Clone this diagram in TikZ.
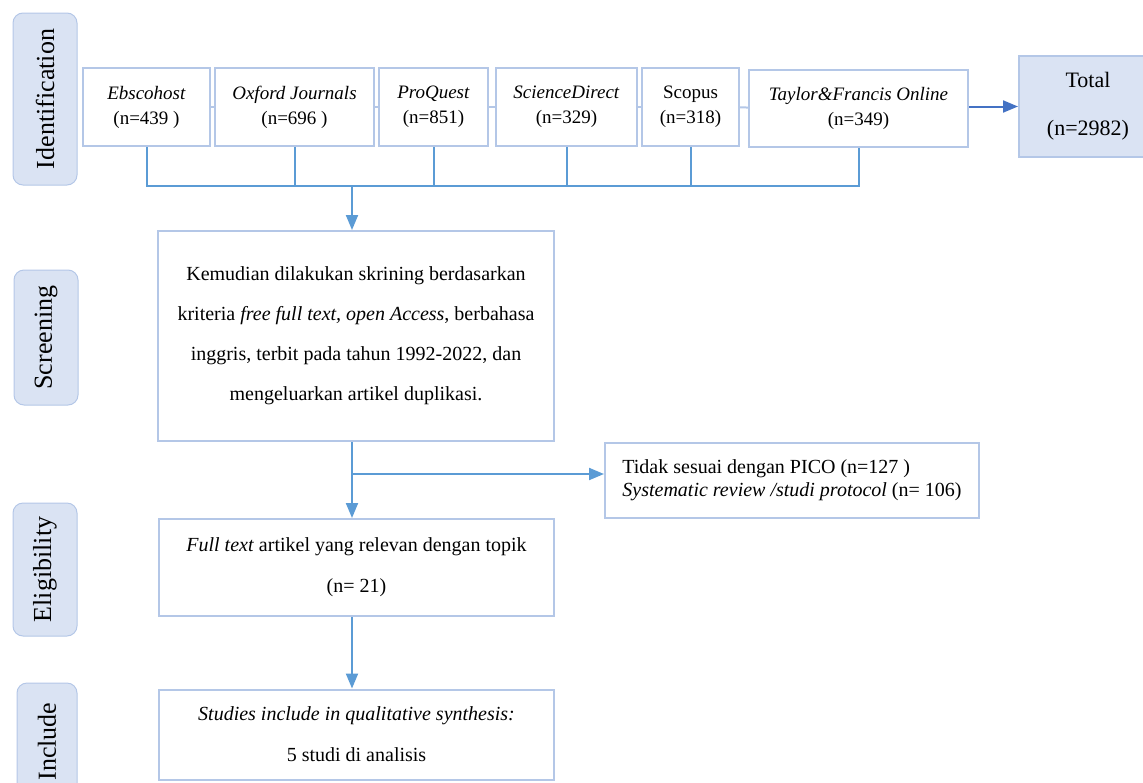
\documentclass[tikz,border=0pt]{standalone}
\usepackage{fontspec}
\setmainfont{Liberation Serif}
\usetikzlibrary{arrows.meta}
\definecolor{PBorder}{RGB}{180,199,231}
\definecolor{PFill}{RGB}{218,227,243}
\definecolor{PLine}{RGB}{91,155,213}
\definecolor{PDark}{RGB}{68,114,196}

\begin{document}
\begin{tikzpicture}[x=1pt,y=-1pt,
  src/.style={draw=PBorder,line width=2pt,fill=white,inner sep=2pt,align=center,
              font=\fontsize{19}{25}\selectfont},
  blk/.style={draw=PBorder,line width=2pt,fill=white,align=center,
              font=\fontsize{20}{40}\selectfont},
  phase/.style={draw=PBorder,line width=1pt,fill=PFill,rounded corners=10pt,rotate=90,
              minimum height=64pt,font=\fontsize{26}{26}\selectfont},
  link/.style={PBorder,line width=2pt},
  con/.style={PLine,line width=2pt},
  arr/.style={-{Triangle[length=15pt,width=12pt]},PLine,line width=2pt},
]
\useasboundingbox (0,0) rectangle (1143,782);
\clip (0,0) rectangle (1143,782);
% phases
\node[phase,minimum width=172pt] (pid) at (45,99) {Identification};
\node[phase,minimum width=135pt] (psc) at (46,337.5) {Screening};
\node[phase,minimum width=133pt] (pel) at (45,569.5) {Eligibility};
\node[phase,minimum width=117pt,minimum height=60pt] (pin) at (47,741.5) {Include};
% sources
\node[src,minimum width=127pt,minimum height=78pt] (ebsco) at (146.5,107)
  {\textit{Ebscohost}\\(n=439 )};
\node[src,minimum width=159pt,minimum height=78pt] (oxford) at (294.5,107)
  {\textit{Oxford Journals}\\(n=696 )};
\node[src,minimum width=109pt,minimum height=78pt] (proq) at (433.5,107)
  {\textit{ProQuest}\\(n=851)};
\node[src,minimum width=141pt,minimum height=78pt] (scidir) at (566.5,107)
  {\textit{ScienceDirect}\\(n=329)};
\node[src,minimum width=97pt,minimum height=78pt] (scopus) at (690.5,107)
  {Scopus\\(n=318)};
\node[src,minimum width=219pt,minimum height=77pt] (taylor) at (858.5,108.5)
  {\textit{Taylor\&Francis Online}\\(n=349)};
\node[draw=PBorder,line width=2pt,fill=PFill,align=center,minimum width=138pt,
  minimum height=101pt,font=\fontsize{22}{48}\selectfont] (total) at (1088,106.5)
  {Total\\(n=2982)};
% flow
\node[blk,minimum width=396pt,minimum height=210pt] (screen) at (356,336)
  {Kemudian dilakukan skrining berdasarkan\\
   kriteria \textit{free full text, open Access}, berbahasa\\
   inggris, terbit pada tahun 1992-2022, dan\\
   mengeluarkan artikel duplikasi.};
\node[blk,minimum width=395pt,minimum height=97pt,font=\fontsize{20}{41}\selectfont] (elig) at (356.5,567.5)
  {\textit{Full text} artikel yang relevan dengan topik\\(n= 21)};
\node[blk,minimum width=395pt,minimum height=90pt,font=\fontsize{20}{41}\selectfont] (incl) at (356.5,734.5)
  {\textit{Studies include in qualitative synthesis:}\\5 studi di analisis};
\node[blk,align=left,minimum width=374pt,minimum height=75pt,font=\fontsize{20}{23}\selectfont] (excl) at (792,480.5)
  {Tidak sesuai dengan PICO (n=127 )\\\textit{Systematic review /studi protocol} (n= 106)};
\coordinate (jn) at (352,186);
\coordinate (br) at (352,474);
\draw[link] (ebsco) -- (oxford);
\draw[link] (oxford) -- (proq);
\draw[link] (proq) -- (scidir);
\draw[link] (scidir) -- (scopus);
\draw[link] (scopus) -- (taylor);
\draw[con] (ebsco.south) |- (jn);
\draw[con] (oxford.south) |- (jn);
\draw[con] (proq.south) |- (jn);
\draw[con] (scidir.south) |- (jn);
\draw[con] (scopus.south) |- (jn);
\draw[con] (taylor.south) |- (jn);
\draw[arr,PDark] (taylor.east |- total) -- (total.west);
\draw[arr] (jn) -- (jn |- screen.north);
\draw[arr] (jn |- screen.south) -- (jn |- elig.north);
\draw[arr] (br) -- (br -| excl.west);
\draw[arr] (jn |- elig.south) -- (jn |- incl.north);
\end{tikzpicture}
\end{document}
